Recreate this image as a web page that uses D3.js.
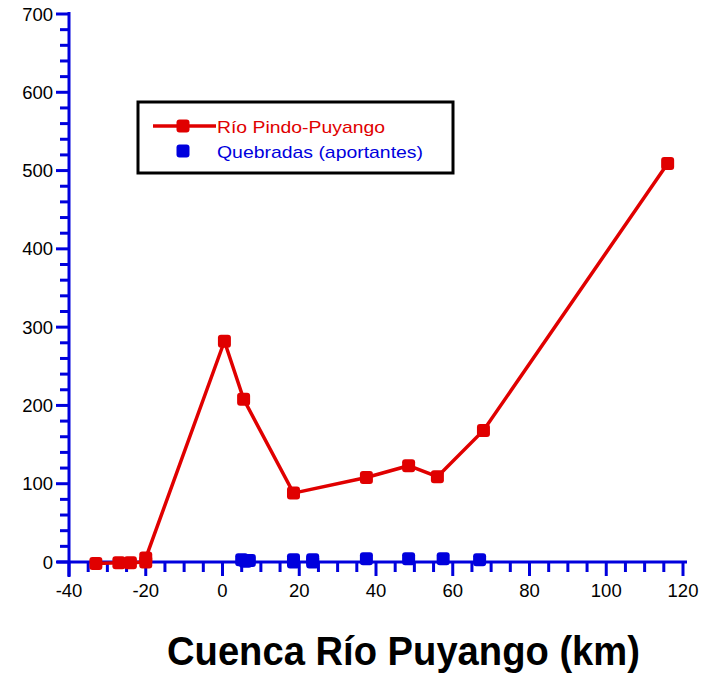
<!DOCTYPE html>
<html><head><meta charset="utf-8">
<script src="https://cdn.jsdelivr.net/npm/d3@7/dist/d3.min.js"></script>
<style>body{margin:0;background:#fff}svg{display:block}text{font-family:"Liberation Sans",Arial,sans-serif}</style>
</head><body>
<svg id="c" width="719" height="673"></svg>
<script>
const xTicks = [-40,-20,0,20,40,60,80,100,120];
const yTicks = [0,100,200,300,400,500,600,700];
const rioX = [-33,-27,-24,-20,-20,0.5,5.5,18.5,37.5,48.5,56,68,116];
const rioY = [-2,-1,-1,0,5,282,208,88,108,123,109,168,509];
const quebX = [5,6,7,18.5,18.5,23.5,23.5,37.5,48.5,57.5,67];
const quebY = [3,1,2,3,0,3,0,4,4,4,3];
const legendLabels = ["Río Pindo-Puyango","Quebradas (aportantes)"];
const xTitle = "Cuenca Río Puyango (km)";

const RED = "#e00000", BLUE = "#0000dd";
const svg = d3.select("#c");
const x = d3.scaleLinear().domain([-40,120]).range([69,683]);
const y = d3.scaleLinear().domain([0,700]).range([562,14]);

// axes
svg.append("line").attr("x1",57).attr("x2",687).attr("y1",y(0)).attr("y2",y(0)).attr("stroke",BLUE).attr("stroke-width",3);
svg.append("line").attr("x1",x(-40)).attr("x2",x(-40)).attr("y1",12).attr("y2",577).attr("stroke",BLUE).attr("stroke-width",3);

// x ticks
d3.range(-40,121,5).forEach(v=>{
  const major = v%20===0;
  svg.append("line").attr("x1",x(v)).attr("x2",x(v)).attr("y1",y(0)).attr("y2",y(0)+(major?14:10))
    .attr("stroke",BLUE).attr("stroke-width",3);
});
xTicks.forEach(v=>{
  svg.append("text").attr("x",x(v)).attr("y",597).attr("text-anchor","middle").attr("font-size",18.5).attr("fill","#000").text(v);
});
// y ticks
d3.range(0,701,20).forEach(v=>{
  const major = v%100===0;
  svg.append("line").attr("x1",x(-40)).attr("x2",x(-40)-(major?13:9)).attr("y1",y(v)).attr("y2",y(v))
    .attr("stroke",BLUE).attr("stroke-width",3);
});
yTicks.forEach(v=>{
  svg.append("text").attr("x",53).attr("y",y(v)+6.5).attr("text-anchor","end").attr("font-size",18.5).attr("fill","#000").text(v);
});

// red line
const rio = rioX.map((d,i)=>[d,rioY[i]]);
svg.append("path").datum(rio).attr("fill","none").attr("stroke",RED).attr("stroke-width",3.5)
  .attr("d",d3.line().x(d=>x(d[0])).y(d=>y(d[1])));
const S=13;
svg.selectAll(".rm").data(rio).enter().append("rect")
  .attr("x",d=>x(d[0])-S/2).attr("y",d=>y(d[1])-S/2).attr("width",S).attr("height",S).attr("rx",3).attr("fill",RED);
const queb = quebX.map((d,i)=>[d,quebY[i]]);
svg.selectAll(".bm").data(queb).enter().append("rect")
  .attr("x",d=>x(d[0])-S/2).attr("y",d=>y(d[1])-S/2).attr("width",S).attr("height",S).attr("rx",3).attr("fill",BLUE);

// legend
svg.append("rect").attr("x",138).attr("y",102).attr("width",315).attr("height",71).attr("fill","none").attr("stroke","#000").attr("stroke-width",3);
svg.append("line").attr("x1",153).attr("x2",216).attr("y1",126).attr("y2",126).attr("stroke",RED).attr("stroke-width",3.5);
svg.append("rect").attr("x",176.5).attr("y",119.5).attr("width",S).attr("height",S).attr("rx",3).attr("fill",RED);
svg.append("rect").attr("x",176.5).attr("y",144.5).attr("width",S).attr("height",S).attr("rx",3).attr("fill",BLUE);
svg.append("text").attr("x",217).attr("y",133).attr("font-size",17).attr("fill",RED)
  .attr("textLength",168).attr("lengthAdjust","spacingAndGlyphs").text(legendLabels[0]);
svg.append("text").attr("x",217).attr("y",158).attr("font-size",17).attr("fill",BLUE)
  .attr("textLength",206).attr("lengthAdjust","spacingAndGlyphs").text(legendLabels[1]);

// title
svg.append("text").attr("x",167).attr("y",665).attr("font-size",41).attr("font-weight","bold").attr("fill","#000")
  .attr("textLength",473).attr("lengthAdjust","spacingAndGlyphs").text(xTitle);
</script>
</body></html>
